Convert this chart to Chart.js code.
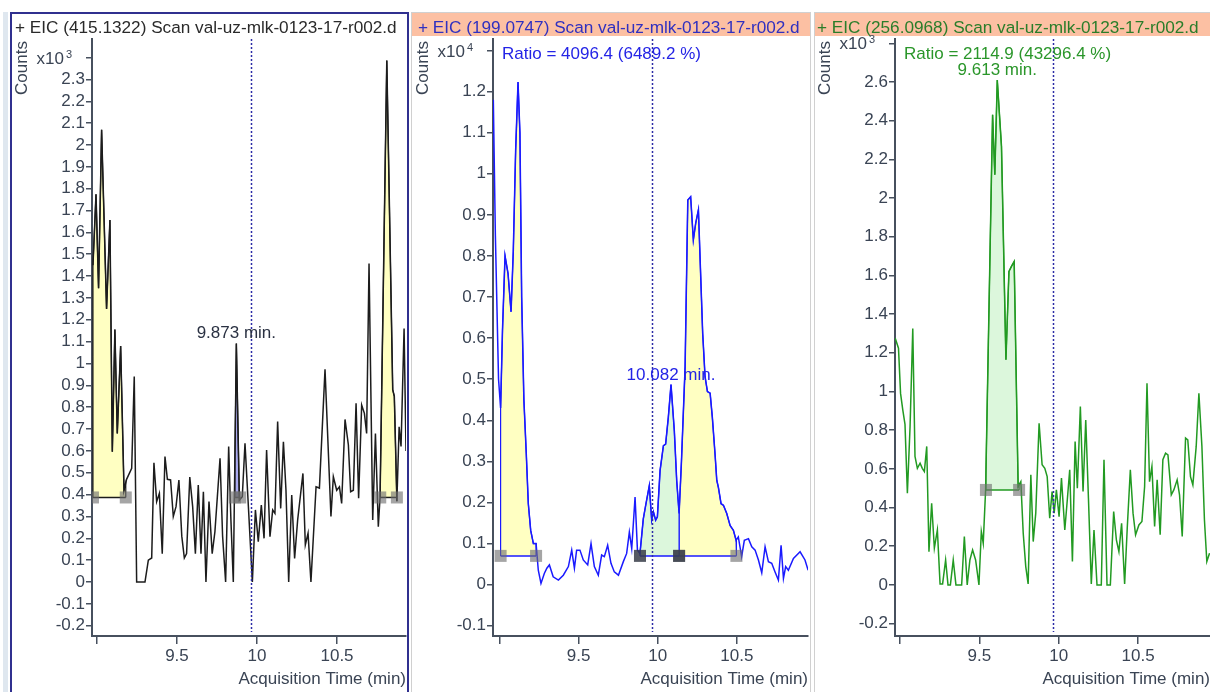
<!DOCTYPE html>
<html><head><meta charset="utf-8">
<script src="https://cdn.jsdelivr.net/npm/chart.js@4.4.1/dist/chart.umd.min.js"></script>
<style>
html,body{margin:0;padding:0;background:#fff}
body{width:1210px;height:692px;overflow:hidden;position:relative}
.box{position:absolute;box-sizing:border-box}
canvas{position:absolute;top:0}
</style></head><body>
<div class="box" style="left:3px;top:12px;width:5px;height:690px;background:#dfe7ef"></div>
<div class="box" style="left:10px;top:12px;width:399px;height:700px;border:2px solid #30308f"></div>
<div class="box" style="left:411px;top:12px;width:400px;height:700px;border:1px solid #d0d0d0"></div>
<div class="box" style="left:412px;top:13px;width:398px;height:23px;background:#fcc0a3"></div>
<div class="box" style="left:814px;top:12px;width:400px;height:700px;border:1px solid #d0d0d0"></div>
<div class="box" style="left:815px;top:13px;width:395px;height:23px;background:#fcc0a3"></div>
<canvas id="c1" width="396" height="692" style="left:12px"></canvas>
<canvas id="c2" width="397" height="692" style="left:413px"></canvas>
<canvas id="c3" width="394" height="692" style="left:816px"></canvas>
<script>
// ---------- data: EIC 415.1322 ----------
const eic415Time = [8.975,8.994,9.010,9.029,9.060,9.081,9.096,9.112,9.127,9.148,9.169,9.185,9.217,9.233,9.248,9.300,9.321,9.342,9.356,9.373,9.390,9.408,9.425,9.440,9.460,9.477,9.494,9.512,9.530,9.546,9.560,9.580,9.598,9.615,9.633,9.650,9.665,9.681,9.700,9.720,9.737,9.769,9.785,9.804,9.823,9.837,9.852,9.871,9.890,9.908,9.925,9.944,9.971,9.990,10.008,10.027,10.044,10.060,10.081,10.098,10.112,10.129,10.148,10.165,10.181,10.198,10.217,10.235,10.254,10.287,10.302,10.319,10.337,10.369,10.390,10.425,10.462,10.477,10.498,10.515,10.529,10.550,10.571,10.585,10.602,10.619,10.635,10.654,10.671,10.685,10.700,10.723,10.740,10.758,10.769,10.811,10.848,10.858,10.874,10.888,10.900,10.919,10.931];
const eic415Counts = [1.45,1.774,1.344,2.07,1.25,1.657,0.596,1.156,0.68,1.08,0.42,0.47,0.52,0.94,0,0,0.10,0.11,0.546,0.368,0.406,0.13,0.574,0.47,0.467,0.30,0.345,0.467,0.21,0.11,0.13,0.48,0.345,0.13,0.444,0.13,0.413,0,0.368,0.13,0.23,0.566,0.21,0,0.62,0.284,0,1.092,0.375,0.39,0.635,0.375,0,0.33,0.185,0.352,0.20,0.604,0.207,0.33,0.314,0.734,0.337,0.642,0.42,0,0.398,0.108,0.284,0.497,0.17,0.223,0,0.436,0.43,0.973,0.30,0.482,0.42,0.436,0.36,0.744,0.627,0.413,0.42,0.818,0.383,0.81,0.772,0.68,1.458,0.284,0.68,0.253,0.39,2.386,0.88,0.85,0.37,0.71,0.62,1.16,0.6];
const eic415PeakStart = [8.975, 9.862, 10.770];
const eic415PeakEnd = [9.180, 9.895, 10.874];
const eic415PeakBaseline = 0.387;
const eic415Apex = [9.871, 1.092];

// ---------- data: EIC 199.0747 ----------
const eic199Time = [8.962,8.975,8.995,9.008,9.020,9.036,9.055,9.074,9.088,9.103,9.118,9.130,9.141,9.155,9.170,9.183,9.198,9.215,9.232,9.246,9.263,9.284,9.300,9.316,9.340,9.373,9.404,9.436,9.457,9.474,9.488,9.509,9.530,9.558,9.579,9.600,9.625,9.646,9.663,9.684,9.705,9.726,9.752,9.783,9.804,9.821,9.836,9.857,9.872,9.888,9.909,9.926,9.947,9.962,9.973,9.987,9.998,10.015,10.036,10.050,10.067,10.084,10.105,10.120,10.135,10.150,10.173,10.190,10.208,10.225,10.240,10.257,10.284,10.299,10.314,10.331,10.345,10.362,10.373,10.383,10.400,10.415,10.436,10.457,10.478,10.495,10.509,10.530,10.547,10.573,10.594,10.615,10.636,10.657,10.678,10.699,10.720,10.741,10.762,10.779,10.794,10.808,10.825,10.857,10.899,10.930,10.950];
const eic199Counts = [1.18,0.85,0.50,0.43,0.62,0.80,0.757,0.664,0.81,1.057,1.223,1.10,0.70,0.45,0.32,0.197,0.132,0.10,0.10,0.035,0.003,0.027,0.040,0.048,0.019,0.011,0.023,0.044,0.084,0.04,0.084,0.084,0.06,0.048,0.10,0.044,0.023,0.072,0.068,0.096,0.052,0.031,0.023,0.056,0.076,0.128,0.088,0.213,0.084,0.076,0.16,0.197,0.241,0.157,0.177,0.157,0.165,0.278,0.338,0.342,0.407,0.487,0.374,0.253,0.173,0.30,0.53,0.936,0.944,0.839,0.88,0.912,0.612,0.506,0.47,0.466,0.407,0.318,0.254,0.237,0.197,0.193,0.173,0.144,0.132,0.108,0.116,0.068,0.108,0.112,0.092,0.084,0.06,0.029,0.092,0.056,0.052,0.031,0.011,0.096,0.015,0.044,0.035,0.064,0.08,0.06,0.035];
const eic199PeakStart = [9.008, 9.888, 10.135];
const eic199PeakEnd = [9.232, 10.135, 10.497];
const eic199PeakBaseline = 0.070;
const eic199Apex = [10.084, 0.487];

// ---------- data: EIC 256.0968 ----------
const eic256Time = [8.969,8.990,9.003,9.017,9.031,9.046,9.063,9.080,9.094,9.109,9.126,9.140,9.153,9.168,9.182,9.199,9.216,9.235,9.252,9.268,9.287,9.302,9.317,9.335,9.352,9.388,9.405,9.423,9.440,9.457,9.476,9.497,9.512,9.524,9.539,9.583,9.597,9.6125,9.639,9.667,9.686,9.702,9.719,9.744,9.761,9.776,9.792,9.807,9.824,9.839,9.855,9.876,9.895,9.912,9.927,9.943,9.958,9.971,9.985,10.002,10.017,10.038,10.052,10.069,10.086,10.103,10.117,10.136,10.153,10.170,10.187,10.205,10.222,10.241,10.268,10.285,10.304,10.325,10.346,10.363,10.379,10.396,10.415,10.432,10.451,10.468,10.484,10.505,10.524,10.541,10.556,10.572,10.587,10.604,10.620,10.639,10.656,10.673,10.688,10.709,10.725,10.746,10.761,10.778,10.799,10.813,10.830,10.845,10.866,10.883,10.902,10.918,10.933,10.950];
const eic256Counts = [1.276,1.224,0.99,0.905,0.83,0.474,0.82,1.326,0.664,0.603,0.629,0.603,0.586,0.716,0.172,0.422,0.19,0.284,0.005,0.005,0.129,0,0,0.129,0,0,0.25,0,0.129,0.181,0.129,0,0.276,0.216,0.491,2.43,2.12,2.61,2.267,1.164,1.62,1.647,1.672,0.509,0.534,0.267,0.095,0.005,0.569,0.224,0.371,0.836,0.621,0.603,0.56,0.345,0.483,0.371,0.491,0.353,0.552,0.284,0.422,0.595,0.121,0.741,0.5,0.922,0.483,0.853,0.448,0.005,0.284,0,0,0.647,0,0,0.379,0.233,0.172,0.319,0.005,0.302,0.595,0.371,0.259,0.31,0.328,0.509,1.043,0.534,0.612,0.302,0.543,0.259,0.647,0.681,0.672,0.466,0.491,0.543,0.466,0.25,0.759,0.75,0.56,0.517,0.716,0.991,0.716,0.336,0.121,0.164];
const eic256PeakStart = [9.541];
const eic256PeakEnd = [9.750];
const eic256PeakBaseline = 0.491;
const eic256Apex = [9.6125, 2.61];

const cursorTime = 9.965;

// ---------- drawing ----------
const FONT = '"Liberation Sans", Arial, sans-serif';
const AXIS = '#47505e';
const TXT = '#3a4454';
const fmt = v => String(Math.round(v * 1000) / 1000);

function interp(ts, vs, t) {
  for (let i = 0; i < ts.length - 1; i++) {
    if (t >= ts[i] && t <= ts[i + 1]) {
      const f = (t - ts[i]) / (ts[i + 1] - ts[i]);
      return vs[i] + f * (vs[i + 1] - vs[i]);
    }
  }
  return t < ts[0] ? vs[0] : vs[vs.length - 1];
}

function build(p) {
  const datasets = [];
  datasets.push({
    data: p.t.map((t, i) => ({x: t, y: p.v[i]})),
    borderColor: p.color, borderWidth: 1.5, pointRadius: 0, tension: 0, fill: false, order: 1
  });
  p.starts.forEach((a, k) => {
    const b = p.ends[k];
    const poly = [{x: a, y: p.base}, {x: a, y: interp(p.t, p.v, a)}];
    p.t.forEach((t, i) => { if (t > a && t < b) poly.push({x: t, y: p.v[i]}); });
    poly.push({x: b, y: interp(p.t, p.v, b)}, {x: b, y: p.base});
    datasets.push({
      data: poly, borderColor: p.color, borderWidth: 1.2, pointRadius: 0, tension: 0,
      backgroundColor: p.fills[k], fill: {value: p.base}, order: 2
    });
    datasets.push({
      data: [{x: a, y: p.base}, {x: b, y: p.base}], borderColor: p.color, borderWidth: 1.5,
      pointStyle: 'rect', pointRadius: 8.5, pointBorderWidth: 0,
      pointBackgroundColor: p.marks ? p.marks[k] : 'rgba(110,110,110,0.62)', fill: false, order: 0
    });
  });

  const decor = {
    id: 'decor' + p.id,
    afterDatasetsDraw(chart) {
      const {ctx, chartArea: ca, scales: {x: xs, y: ys}} = chart;
      ctx.save();
      // cursor line
      const cx = Math.round(xs.getPixelForValue(cursorTime)) + 0.5;
      ctx.strokeStyle = '#2c2ca6'; ctx.lineWidth = 1.5; ctx.setLineDash([2, 2]);
      ctx.beginPath(); ctx.moveTo(cx, ca.top); ctx.lineTo(cx, ca.bottom - 4); ctx.stroke();
      ctx.setLineDash([]);
      // apex label
      ctx.font = '17px ' + FONT; ctx.fillStyle = p.labelColor;
      ctx.textAlign = 'center'; ctx.textBaseline = 'alphabetic';
      ctx.fillText(p.apexText, xs.getPixelForValue(p.apex[0]), ys.getPixelForValue(p.apex[1]) - 5);
      // ratio
      if (p.ratio) {
        ctx.textAlign = 'left'; ctx.fillStyle = p.ratioColor;
        ctx.fillText(p.ratio, ca.left + 9, ca.top + 20);
      }
      // panel title
      ctx.textAlign = 'left'; ctx.fillStyle = p.titleColor;
      ctx.font = '17.2px ' + FONT;
      ctx.fillText(p.title, p.titleX, 33);
      // y title
      ctx.save();
      ctx.translate(ca.left - 70, 68); ctx.rotate(-Math.PI / 2);
      ctx.textAlign = 'center'; ctx.textBaseline = 'middle'; ctx.fillStyle = TXT;
      ctx.font = '17px ' + FONT;
      ctx.fillText('Counts', 0, 0);
      ctx.restore();
      // exponent at the top tick
      const top = ys.ticks[ys.ticks.length - 1].value;
      const ty = ys.getPixelForValue(top);
      ctx.fillStyle = TXT; ctx.textAlign = 'right'; ctx.font = '17px ' + FONT;
      ctx.fillText('x10', ca.left - 28, ty + 6);
      ctx.textAlign = 'left'; ctx.font = '11px ' + FONT;
      ctx.fillText(p.exp, ca.left - 26, ty);
      ctx.restore();
    }
  };

  new Chart(document.getElementById(p.id), {
    type: 'line',
    data: {datasets},
    options: {
      responsive: false, animation: false, devicePixelRatio: 1,
      layout: {autoPadding: false, padding: {top: 39, right: p.padRight, left: 0, bottom: 0}},
      plugins: {legend: {display: false}, tooltip: {enabled: false}},
      scales: {
        x: {
          type: 'linear', min: p.xMin, max: p.xMax,
          afterFit: s => { s.height = 56; },
          ticks: {stepSize: 0.5, includeBounds: false, autoSkip: false, maxRotation: 0, padding: 2,
            color: TXT, font: {family: FONT, size: 17},
            callback: (v, i) => i === 0 ? '' : fmt(v)},
          grid: {drawOnChartArea: false, drawTicks: true, tickLength: 8, color: AXIS, lineWidth: 1.5},
          border: {display: true, color: AXIS, width: 2},
          title: {display: true, text: 'Acquisition Time (min)', align: 'end', color: TXT,
            font: {family: FONT, size: 17}, padding: {top: 0, bottom: 2}}
        },
        y: {
          type: 'linear', min: p.yMin, max: p.yMax,
          afterFit: s => { s.width = p.axisWidth; },
          ticks: {stepSize: p.yStep, includeBounds: false, autoSkip: false, maxTicksLimit: 200, padding: 1,
            color: TXT, font: {family: FONT, size: 17},
            callback: (v, i, arr) => i === arr.length - 1 ? '' : fmt(v)},
          grid: {drawOnChartArea: false, drawTicks: true, tickLength: 6, color: AXIS, lineWidth: 1.5},
          border: {display: true, color: AXIS, width: 2}
        }
      }
    },
    plugins: [decor]
  });
}

build({id: 'c1', t: eic415Time, v: eic415Counts, starts: eic415PeakStart, ends: eic415PeakEnd,
  base: eic415PeakBaseline, color: '#1c1c1c', fills: ['#ffffc2', '#aaaaf0', '#ffffc2'],
  apex: eic415Apex, apexText: '9.873 min.', labelColor: '#2a3142',
  title: '+ EIC (415.1322) Scan val-uz-mlk-0123-17-r002.d', titleColor: '#2a2a2a', titleX: 3,
  exp: '3', xMin: 8.969, xMax: 10.931, yMin: -0.247, yMax: 2.485, yStep: 0.1, axisWidth: 80, padRight: 2});

build({id: 'c2', t: eic199Time, v: eic199Counts, starts: eic199PeakStart, ends: eic199PeakEnd,
  base: eic199PeakBaseline, color: '#1a1aff', fills: ['#ffffc2', '#dcf7dc', '#ffffc2'],
  marks: ['rgba(110,110,110,0.62)', 'rgba(55,60,72,0.85)', 'rgba(110,110,110,0.62)'],
  apex: eic199Apex, apexText: '10.082 min.', labelColor: '#2424e6',
  ratio: 'Ratio = 4096.4 (6489.2 %)', ratioColor: '#2424e6',
  title: '+ EIC (199.0747) Scan val-uz-mlk-0123-17-r002.d', titleColor: '#3030c0', titleX: 5,
  exp: '4', xMin: 8.960, xMax: 10.949, yMin: -0.125, yMax: 1.328, yStep: 0.1, axisWidth: 80, padRight: 2});

build({id: 'c3', t: eic256Time, v: eic256Counts, starts: eic256PeakStart, ends: eic256PeakEnd,
  base: eic256PeakBaseline, color: '#229a22', fills: ['#dcf7dc'],
  apex: eic256Apex, apexText: '9.613 min.', labelColor: '#2a962a',
  ratio: 'Ratio = 2114.9 (43296.4 %)', ratioColor: '#2a962a',
  title: '+ EIC (256.0968) Scan val-uz-mlk-0123-17-r002.d', titleColor: '#2a7d2a', titleX: 1,
  exp: '3', xMin: 8.968, xMax: 10.953, yMin: -0.264, yMax: 2.822, yStep: 0.2, axisWidth: 79, padRight: 0});
</script>
</body></html>
